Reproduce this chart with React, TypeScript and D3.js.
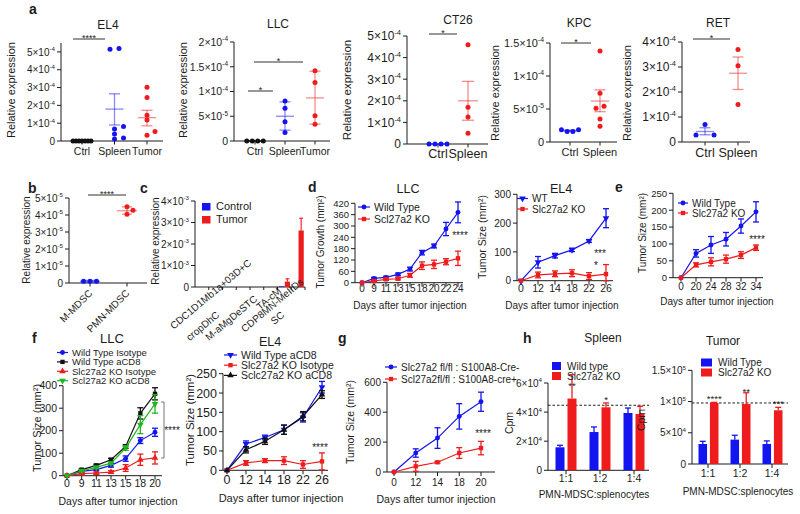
import React from "react";
import * as d3 from "d3";

const FONT = "'Liberation Sans', Arial, Helvetica, sans-serif";
const BLUE = "#1414f0";
const RED = "#ee1c1c";
const GREEN = "#22b422";
const BLACK = "#111111";
const INK = "#1c1c1c";

/* ---------------- panel a ---------------- */
const catsCST = ["Ctrl", "Spleen", "Tumor"];
const catsCS = ["Ctrl", "Spleen"];

const el4Ctrl = [0, 0, 0, 0, 0, 0, 0];
const el4Spleen = [5.15e-4, 5.19e-4, 0.82e-4, 0.67e-4, 0.39e-4, 0.11e-4, 0.17e-4];
const el4Tumor = [3.02e-4, 2.44e-4, 1.44e-4, 1.18e-4, 0.54e-4, 0.32e-4];
const el4Mean = [0, 1.79e-4, 1.31e-4];
const el4Sem = [[0, 0], [0.9e-4, 2.65e-4], [0.85e-4, 1.72e-4]];
const el4Ticks = [0, 1e-4, 2e-4, 3e-4, 4e-4, 5e-4];
const el4TickLabels = ["0", "1×10^-4", "2×10^-4", "3×10^-4", "4×10^-4", "5×10^-4"];

const llcCtrl = [0, 0, 0, 0];
const llcSpleen = [8.1e-5, 6.6e-5, 3.9e-5, 1.7e-5];
const llcTumor = [14.2e-5, 11.8e-5, 5.1e-5, 3.4e-5];
const llcMean = [0, 5.0e-5, 8.7e-5];
const llcSem = [[0, 0], [2.2e-5, 7.9e-5], [3.4e-5, 14.1e-5]];
const llcTicks = [0, 5e-5, 1e-4, 1.5e-4, 2e-4];
const llcTickLabels = ["0", "5×10^-5", "1×10^-4", "1.5×10^-4", "2×10^-4"];

const ct26Ctrl = [0, 0, 0, 0];
const ct26Spleen = [4.6e-4, 1.7e-4, 1.25e-4, 0.5e-4];
const ct26Mean = [0, 2.0e-4];
const ct26Sem = [[0, 0], [1.1e-4, 2.9e-4]];
const ct26Ticks = [0, 1e-4, 2e-4, 3e-4, 4e-4, 5e-4];
const ct26TickLabels = el4TickLabels;

const kpcCtrl = [1.6e-5, 1.85e-5, 1.6e-5, 1.85e-5];
const kpcSpleen = [13.8e-5, 7.4e-5, 5.4e-5, 5.1e-5, 3.5e-5, 2.4e-5];
const kpcMean = [1.72e-5, 6.2e-5];
const kpcSem = [[1.65e-5, 1.8e-5], [4.6e-5, 7.9e-5]];
const kpcTicks = [0, 5e-5, 1e-4, 1.5e-4];
const kpcTickLabels = ["0", "5×10^-5", "1×10^-4", "1.5×10^-4"];

const retCtrl = [0.70e-4, 0.28e-4, 0.28e-4];
const retSpleen = [3.7e-4, 3.05e-4, 1.5e-4];
const retMean = [0.42e-4, 2.75e-4];
const retSem = [[0.29e-4, 0.57e-4], [2.1e-4, 3.4e-4]];
const retTicks = [0, 1e-4, 2e-4, 3e-4, 4e-4];
const retTickLabels = ["0", "1×10^-4", "2×10^-4", "3×10^-4", "4×10^-4"];

/* ---------------- panel b ---------------- */
const bCats = ["M-MDSC", "PMN-MDSC"];
const bM = [0.1e-5, 0.1e-5, 0.1e-5];
const bPmn = [4.48e-5, 4.28e-5, 4.05e-5];
const bMean = [0.1e-5, 4.25e-5];
const bSem = [[0.05e-5, 0.15e-5], [4.05e-5, 4.48e-5]];
const bTicks = [0, 1e-5, 2e-5, 3e-5, 4e-5, 5e-5];
const bTickLabels = ["0", "1×10^-5", "2×10^-5", "3×10^-5", "4×10^-5", "5×10^-5"];

/* ---------------- panel c ---------------- */
const cCats = ["k1", "k2", "k3", "k4", "k5", "k6", "k7", "k8"];
const cSeries = ["Control", "Tumor"];
const cControl = [0, 0, 0, 0, 0, 0, 0.03e-3, 0];
const cTumor = [0, 0, 0, 0, 0, 0, 0.25e-3, 2.63e-3];
const cTumorErr = [0, 0, 0, 0, 0, 0, 0.13e-3, 0.57e-3];
const cTicks = [0, 1e-3, 2e-3, 3e-3, 4e-3];
const cTickLabels = ["0", "1×10^-3", "2×10^-3", "3×10^-3", "4×10^-3"];
const cLabels = ["CDC1D1Mb1a+03D+C", "cropDhC", "M-aMgDeSTC", "TA-cM", "CDP8MN-MeIIDs", "SC"];
const cLabelAnchors = [[252, 264], [220, 316], [258, 300], [282, 292], [304, 283], [285, 316]];

/* ---------------- panel d ---------------- */
const dLlcDays = ["0", "9", "11", "13", "15", "18", "20", "22", "24"];
const dLlcWt = [0, 23, 28, 44, 72, 159, 194, 284, 372];
const dLlcWtErr = [0, 5, 6, 7, 10, 12, 10, 35, 55];
const dLlcKo = [0, 9, 18, 21, 39, 90, 97, 111, 129];
const dLlcKoErr = [0, 3, 5, 6, 10, 20, 22, 16, 38];
const dLlcTicks = [0, 60, 120, 180, 240, 300, 360, 420];

const dEl4Days = ["0", "12", "14", "18", "22", "26"];
const dEl4Wt = [0, 64, 87, 107, 138, 217];
const dEl4WtErr = [0, 20, 8, 6, 5, 33];
const dEl4Ko = [0, 20, 24, 26, 16, 23];
const dEl4KoErr = [0, 10, 10, 12, 12, 33];
const dEl4Ticks = [0, 100, 200, 300];

/* ---------------- panel e ---------------- */
const eDays = ["0", "20", "24", "28", "32", "34"];
const eWt = [0, 72, 97, 114, 153, 195];
const eWtErr = [0, 11, 25, 20, 21, 30];
const eKo = [0, 38, 47, 55, 67, 89];
const eKoErr = [0, 6, 12, 12, 10, 8];
const eTicks = [0, 50, 100, 150, 200, 250];

/* ---------------- panel f ---------------- */
const fLlcDays = ["0", "9", "11", "13", "15", "18", "20"];
const fLlcWtIso = [0, 19, 27, 46, 76, 156, 193];
const fLlcWtIsoErr = [0, 5, 5, 8, 12, 13, 18];
const fLlcWtCd8 = [0, 27, 46, 71, 130, 277, 364];
const fLlcWtCd8Err = [0, 4, 5, 6, 8, 25, 27];
const fLlcKoIso = [0, 9, 12, 16, 34, 71, 79];
const fLlcKoIsoErr = [0, 4, 4, 6, 15, 25, 27];
const fLlcKoCd8 = [0, 22, 37, 56, 123, 227, 319];
const fLlcKoCd8Err = [0, 4, 5, 6, 10, 40, 41];
const fLlcTicks = [0, 100, 200, 300, 400];

const fEl4Days = ["0", "12", "14", "18", "22", "26"];
const fEl4WtCd8 = [0, 68, 85, 105, 137, 215];
const fEl4WtCd8Err = [0, 8, 6, 12, 12, 15];
const fEl4KoIso = [0, 19, 25, 25, 15, 23];
const fEl4KoIsoErr = [0, 6, 5, 10, 10, 22];
const fEl4KoCd8 = [0, 53, 75, 105, 140, 196];
const fEl4KoCd8Err = [0, 8, 8, 12, 12, 10];
const fEl4Ticks = [0, 50, 100, 150, 200, 250];

/* ---------------- panel g ---------------- */
const gDays = ["0", "12", "14", "18", "20"];
const gCreNeg = [0, 127, 227, 372, 470];
const gCreNegErr = [0, 28, 69, 85, 64];
const gCrePos = [0, 38, 65, 127, 160];
const gCrePosErr = [0, 33, 6, 36, 45];
const gTicks = [0, 200, 400, 600];

/* ---------------- panel h ---------------- */
const hGroups = ["1:1", "1:2", "1:4"];
const hSpleenSeries = ["Wild type", "Slc27a2 KO"];
const hSpleenWt = [1.58e4, 2.63e4, 3.94e4];
const hSpleenWtErr = [0.14e4, 0.35e4, 0.34e4];
const hSpleenKo = [4.93e4, 4.33e4, 3.87e4];
const hSpleenKoErr = [1.64e4, 0.3e4, 0.53e4];
const hSpleenRef = 4.47e4;
const hSpleenTicks = [0, 2e4, 4e4, 6e4];
const hSpleenTickLabels = ["0", "2×10^4", "4×10^4", "6×10^4"];
const hSpleenKoStars = ["**", "*", ""];

const hTumorSeries = ["Wild Type", "Slc27a2 KO"];
const hTumorWt = [3.2e4, 3.9e4, 3.2e4];
const hTumorWtErr = [0.43e4, 0.7e4, 0.5e4];
const hTumorKo = [9.77e4, 9.6e4, 8.6e4];
const hTumorKoErr = [0.1e4, 1.8e4, 0.47e4];
const hTumorRef = 9.77e4;
const hTumorTicks = [0, 5e4, 1e5, 1.5e5];
const hTumorTickLabels = ["0", "5×10^4", "1×10^5", "1.5×10^5"];
const hTumorKoStars = ["****", "**", "***"];

/* ---------------- helpers ---------------- */
function Sci({ x, y, label, size, anchor = "end" }: any) {
  const i = label.indexOf("^");
  const base = i < 0 ? label : label.slice(0, i);
  const exp = i < 0 ? null : label.slice(i + 1);
  return (
    <text x={x} y={y} fontSize={size} textAnchor={anchor}>
      {base}
      {exp !== null && (
        <tspan fontSize={size * 0.62} dy={-size * 0.42}>
          {exp}
        </tspan>
      )}
    </text>
  );
}

function VLabel({ x, y, text, size }: any) {
  return (
    <text transform={`translate(${x},${y}) rotate(-90)`} textAnchor="middle" fontSize={size}>
      {text}
    </text>
  );
}

function Stars({ x, cy, text, size = 10, anchor = "middle" }: any) {
  return (
    <text x={x} y={cy + size * 0.6} fontSize={size} textAnchor={anchor}>
      {text}
    </text>
  );
}

function YAxis({ y, x, ticks, labels, font, len = 4 }: any) {
  const [r0, r1] = y.range();
  return (
    <g>
      <line x1={x} x2={x} y1={r0} y2={r1} stroke={INK} strokeWidth={1} />
      {ticks.map((t: number, i: number) => (
        <g key={i}>
          <line x1={x - len} x2={x} y1={y(t)} y2={y(t)} stroke={INK} strokeWidth={1} />
          <Sci x={x - len - 2} y={y(t) + font * 0.36} label={labels[i]} size={font} />
        </g>
      ))}
    </g>
  );
}

function swarm(pys: number[], step: number, th = 4.6): number[] {
  const n = pys.length;
  const order = d3.range(n).sort((a, b) => pys[b] - pys[a]);
  const offs = new Array(n).fill(0);
  const done: number[] = [];
  const cand = (k: number) => (k === 0 ? 0 : (k % 2 ? 1 : -1) * Math.ceil(k / 2) * step);
  for (const i of order) {
    const near = done.filter((j) => Math.abs(pys[j] - pys[i]) < th);
    let k = 0;
    while (near.some((j) => Math.abs(offs[j] - cand(k)) < step * 0.5)) k++;
    offs[i] = cand(k);
    done.push(i);
  }
  const parent = d3.range(n);
  const find = (a: number): number => (parent[a] === a ? a : (parent[a] = find(parent[a])));
  for (let a = 0; a < n; a++)
    for (let b = a + 1; b < n; b++) if (Math.abs(pys[a] - pys[b]) < th) parent[find(a)] = find(b);
  const groups = d3.group(d3.range(n), find);
  groups.forEach((idx) => {
    const ext = d3.extent(idx, (i) => pys[i]) as [number, number];
    if (idx.length > 1 && ext[1] - ext[0] < 2) {
      const m = d3.mean(idx, (i) => offs[i]) as number;
      idx.forEach((i) => (offs[i] -= m));
    }
  });
  return offs;
}

/* ---------------- scatter (dot plot) panel ---------------- */
function ScatterPanel({ p }: any) {
  const L = p.L;
  const y = d3.scaleLinear().domain([0, p.yMax]).range([L.y0, L.yTop]);
  const x = d3.scalePoint<string>().domain(p.cats).range([L.c0, L.c1]);
  return (
    <g>
      {p.title && (
        <text x={L.titleX} y={L.titleY} fontSize={L.titleFont} textAnchor="middle">
          {p.title}
        </text>
      )}
      <YAxis y={y} x={L.ax} ticks={p.ticks} labels={p.tickLabels} font={L.tickFont} />
      <line x1={L.ax} x2={L.axEnd} y1={L.y0} y2={L.y0} stroke={INK} strokeWidth={1} />
      {p.cats.map((c: string) => (
        <g key={c}>
          <line x1={x(c)} x2={x(c)} y1={L.y0} y2={L.y0 + 3.5} stroke={INK} />
          {L.rotate ? (
            <text
              transform={`translate(${x(c)! + L.rotDx},${L.y0 + L.rotDy}) rotate(-45)`}
              fontSize={L.catFont}
              textAnchor="end"
            >
              {c}
            </text>
          ) : (
            <text x={x(c)} y={L.catY} fontSize={L.catFont} textAnchor="middle">
              {c}
            </text>
          )}
        </g>
      ))}
      <VLabel x={L.ylabelX} y={L.ylabelY} text={p.ylabel} size={L.ylabelFont} />
      {p.groups.map((vals: number[], gi: number) => {
        const cx = x(p.cats[gi])!;
        const col = p.colors[gi];
        const pys = vals.map((v) => y(v));
        const offs = swarm(pys, L.steps[gi]);
        const [lo, hi] = p.sem[gi];
        return (
          <g key={gi}>
            <g stroke={col} strokeOpacity={col === BLACK ? 1 : 0.5} strokeWidth={1.3}>
              <line x1={cx - L.meanW} x2={cx + L.meanW} y1={y(p.means[gi])} y2={y(p.means[gi])} />
              {hi > lo && (
                <>
                  <line x1={cx} x2={cx} y1={y(lo)} y2={y(hi)} />
                  <line x1={cx - L.capW} x2={cx + L.capW} y1={y(lo)} y2={y(lo)} />
                  <line x1={cx - L.capW} x2={cx + L.capW} y1={y(hi)} y2={y(hi)} />
                </>
              )}
            </g>
            {vals.map((v, i) => (
              <circle key={i} cx={cx + offs[i]} cy={pys[i]} r={2.5} fill={col} />
            ))}
          </g>
        );
      })}
      {L.sig.map((s: any, i: number) => (
        <g key={i}>
          <line x1={s.x1} x2={s.x2} y1={s.y} y2={s.y} stroke={INK} strokeWidth={0.9} />
          <Stars x={(s.x1 + s.x2) / 2} cy={s.y - 3.5} text={p.sigText[i]} size={9} />
        </g>
      ))}
    </g>
  );
}

/* ---------------- line panel ---------------- */
function Marker({ sym, rot = 0, x, y, color, size = 19 }: any) {
  return (
    <path
      transform={`translate(${x},${y}) rotate(${rot})`}
      d={d3.symbol(sym, size)() as string}
      fill={color}
    />
  );
}

function LinePanel({ p }: any) {
  const L = p.L;
  const y = d3.scaleLinear().domain([0, p.yMax]).range([L.y0, L.yTop]);
  const x = d3.scalePoint<string>().domain(p.days).range([L.x0, L.x1]);
  const line = d3
    .line<number>()
    .x((_, i) => x(p.days[i])!)
    .y((v) => y(v));
  return (
    <g>
      {p.title && (
        <text x={L.titleX} y={L.titleY} fontSize={L.titleFont} textAnchor="middle">
          {p.title}
        </text>
      )}
      <YAxis y={y} x={L.ax} ticks={p.ticks} labels={p.ticks.map(String)} font={L.tickFont} />
      <line x1={L.ax} x2={L.axEnd} y1={L.y0} y2={L.y0} stroke={INK} strokeWidth={1} />
      {p.days.map((d: string) => (
        <g key={d}>
          <line x1={x(d)} x2={x(d)} y1={L.y0} y2={L.y0 + 4} stroke={INK} />
          <text x={x(d)} y={L.xTickY} fontSize={L.xTickFont ?? L.tickFont} textAnchor="middle">
            {d}
          </text>
        </g>
      ))}
      <VLabel x={L.ylabelX} y={L.ylabelY} text={p.ylabel} size={L.ylabelFont} />
      <text x={L.xlabelX} y={L.xlabelY} fontSize={L.xlabelFont} textAnchor="middle">
        {p.xlabel}
      </text>
      {p.series.map((s: any, si: number) => (
        <g key={si}>
          <path d={line(s.values) as string} fill="none" stroke={s.color} strokeWidth={1.2} />
          {s.values.map((v: number, i: number) => {
            const e = s.errs[i];
            if (!e) return null;
            const cx = x(p.days[i])!;
            const y1 = y(Math.max(0, v - e));
            const y2 = y(v + e);
            return (
              <g key={i} stroke={s.color} strokeWidth={1.3}>
                <line x1={cx} x2={cx} y1={y1} y2={y2} />
                <line x1={cx - 3} x2={cx + 3} y1={y1} y2={y1} />
                <line x1={cx - 3} x2={cx + 3} y1={y2} y2={y2} />
              </g>
            );
          })}
          {s.values.map((v: number, i: number) => (
            <Marker key={i} sym={s.sym} rot={s.rot} x={x(p.days[i])} y={y(v)} color={s.color} />
          ))}
        </g>
      ))}
      {p.series.map((s: any, si: number) => {
        const ly = L.legY + si * L.legDy;
        return (
          <g key={"l" + si}>
            <line x1={L.legX} x2={L.legX + L.legW} y1={ly} y2={ly} stroke={s.color} strokeWidth={1.2} />
            <Marker sym={s.sym} rot={s.rot} x={L.legX + L.legW / 2} y={ly} color={s.color} />
            <text x={L.legX + L.legW + 4} y={ly + L.legFont * 0.36} fontSize={L.legFont}>
              {s.name}
            </text>
          </g>
        );
      })}
      {L.stars.map((s: any, i: number) => (
        <Stars key={i} x={s[0]} cy={s[1]} text={p.stars[i]} size={10} />
      ))}
    </g>
  );
}

/* ---------------- bar panel (h) ---------------- */
function BarPanel({ p }: any) {
  const L = p.L;
  const y = d3.scaleLinear().domain([0, p.yMax]).range([L.y0, L.yTop]);
  const x0 = d3.scaleBand<string>().domain(p.groups).range([L.b0, L.b1]);
  const x1 = d3.scaleBand<string>().domain(p.series).range([L.i0, L.i1]).paddingInner(0.25);
  const colors = [BLUE, RED];
  return (
    <g>
      <text x={L.titleX} y={L.titleY} fontSize={L.titleFont} textAnchor="middle">
        {p.title}
      </text>
      <YAxis y={y} x={L.ax} ticks={p.ticks} labels={p.tickLabels} font={L.tickFont} />
      <line x1={L.ax} x2={L.axEnd} y1={L.y0} y2={L.y0} stroke={INK} strokeWidth={1} />
      {p.groups.map((g: string) => (
        <g key={g}>
          <line
            x1={x0(g)! + x0.bandwidth() / 2}
            x2={x0(g)! + x0.bandwidth() / 2}
            y1={L.y0}
            y2={L.y0 + 4}
            stroke={INK}
          />
          <text x={x0(g)! + x0.bandwidth() / 2} y={L.xTickY} fontSize={L.xTickFont} textAnchor="middle">
            {g}
          </text>
        </g>
      ))}
      <line
        x1={L.ax}
        x2={L.axEnd}
        y1={y(p.ref)}
        y2={y(p.ref)}
        stroke={INK}
        strokeWidth={1}
        strokeDasharray="2.5,2"
      />
      {p.series.map((s: string, si: number) =>
        p.values[si].map((v: number, gi: number) => {
          const bx = x0(p.groups[gi])! + x1(s)!;
          const bw = x1.bandwidth();
          const cx = bx + bw / 2;
          const top = y(v + p.errs[si][gi]);
          const star = si === 1 ? p.koStars[gi] : "";
          return (
            <g key={s + gi}>
              <rect x={bx} y={y(v)} width={bw} height={L.y0 - y(v)} fill={colors[si]} />
              <g stroke={colors[si]} strokeWidth={1.3}>
                <line x1={cx} x2={cx} y1={y(v)} y2={top} />
                <line x1={cx - 3} x2={cx + 3} y1={top} y2={top} />
              </g>
              {star && <Stars x={cx} cy={Math.max(y(v) - 15, top - 6)} text={star} size={9.5} />}
            </g>
          );
        })
      )}
      <VLabel x={L.ylabelX} y={L.ylabelY} text="Cpm" size={L.ylabelFont} />
      <text x={L.xlabelX} y={L.xlabelY} fontSize={L.xlabelFont} textAnchor="middle">
        PMN-MDSC:splenocytes
      </text>
      {p.series.map((s: string, si: number) => (
        <g key={"lg" + s}>
          <rect x={L.legX} y={L.legY + si * L.legDy - 4} width={L.legW} height={8} fill={colors[si]} />
          <text x={L.legX + L.legW + 6} y={L.legY + si * L.legDy + 3.8} fontSize={L.legFont}>
            {s}
          </text>
        </g>
      ))}
    </g>
  );
}

/* ---------------- panel c ---------------- */
function PanelC() {
  const ax = 195;
  const y = d3.scaleLinear().domain([0, 4e-3]).range([287, 201]);
  const x0 = d3.scaleBand<string>().domain(cCats).range([195, 305]);
  const x1 = d3.scaleBand<string>().domain(cSeries).range([1.5, 12.5]).paddingInner(0.1);
  const vals = [cControl, cTumor];
  const errs = [cControl.map(() => 0), cTumorErr];
  const cols = [BLUE, RED];
  return (
    <g>
      <YAxis y={y} x={ax} ticks={cTicks} labels={cTickLabels} font={10} />
      <line x1={ax} x2={305} y1={287} y2={287} stroke={INK} />
      {cCats.map((c) => (
        <line key={c} x1={x0(c)! + x0.bandwidth()} x2={x0(c)! + x0.bandwidth()} y1={287} y2={290} stroke={INK} />
      ))}
      {cSeries.map((s, si) =>
        vals[si].map((v, gi) => {
          if (v <= 0) return null;
          const bx = x0(cCats[gi])! + x1(s)!;
          const bw = x1.bandwidth();
          const cx = bx + bw / 2;
          const top = y(v + errs[si][gi]);
          return (
            <g key={s + gi}>
              <rect x={bx} y={y(v)} width={bw} height={287 - y(v)} fill={cols[si]} />
              {errs[si][gi] > 0 && (
                <g stroke={cols[si]} strokeWidth={1.1}>
                  <line x1={cx} x2={cx} y1={y(v)} y2={top} />
                  <line x1={cx - 2} x2={cx + 2} y1={top} y2={top} />
                </g>
              )}
            </g>
          );
        })
      )}
      <VLabel x={159} y={241} text="Relative expression" size={10} />
      {cSeries.map((s, si) => (
        <g key={s}>
          <rect x={202} y={203 + si * 13} width={8.5} height={7.5} fill={cols[si]} />
          <text x={216} y={210 + si * 13} fontSize={11}>
            {s}
          </text>
        </g>
      ))}
      {cLabels.map((t, i) => (
        <text
          key={t}
          transform={`translate(${cLabelAnchors[i][0]},${cLabelAnchors[i][1]}) rotate(-40)`}
          textAnchor="end"
          fontSize={10}
        >
          {t}
        </text>
      ))}
    </g>
  );
}

/* ---------------- specs ---------------- */
const aSpecs = [
  {
    title: "EL4", cats: catsCST, groups: [el4Ctrl, el4Spleen, el4Tumor], colors: [BLACK, BLUE, RED],
    means: el4Mean, sem: el4Sem, ticks: el4Ticks, tickLabels: el4TickLabels, yMax: 5.5e-4,
    ylabel: "Relative expression", sigText: ["****"],
    L: { ax: 61, axEnd: 163, y0: 141, yTop: 43, c0: 82, c1: 147, titleX: 108, titleY: 29, titleFont: 12,
      tickFont: 10, catFont: 10.5, catY: 155, ylabelX: 15, ylabelY: 90, ylabelFont: 11,
      steps: [3, 9, 8], meanW: 9, capW: 5.5, sig: [{ x1: 73, x2: 105, y: 39 }] },
  },
  {
    title: "LLC", cats: catsCST, groups: [llcCtrl, llcSpleen, llcTumor], colors: [BLACK, BLUE, RED],
    means: llcMean, sem: llcSem, ticks: llcTicks, tickLabels: llcTickLabels, yMax: 2e-4,
    ylabel: "Relative expression", sigText: ["*", "*"],
    L: { ax: 234, axEnd: 330, y0: 141, yTop: 42, c0: 255, c1: 315, titleX: 278, titleY: 28, titleFont: 12,
      tickFont: 10.5, catFont: 10.5, catY: 155, ylabelX: 187, ylabelY: 90, ylabelFont: 11,
      steps: [5.5, 6, 6], meanW: 9, capW: 5.5, sig: [{ x1: 248, x2: 273, y: 91 }, { x1: 254, x2: 303, y: 62 }] },
  },
  {
    title: "CT26", cats: catsCS, groups: [ct26Ctrl, ct26Spleen], colors: [BLUE, RED],
    means: ct26Mean, sem: ct26Sem, ticks: ct26Ticks, tickLabels: ct26TickLabels, yMax: 5e-4,
    ylabel: "Relative expression", sigText: ["*"],
    L: { ax: 407, axEnd: 488, y0: 144, yTop: 36, c0: 438, c1: 468, titleX: 458, titleY: 24, titleFont: 12,
      tickFont: 12, catFont: 12.5, catY: 158, ylabelX: 351, ylabelY: 90, ylabelFont: 11.5,
      steps: [6, 6], meanW: 10, capW: 6, sig: [{ x1: 429, x2: 457, y: 34 }] },
  },
  {
    title: "KPC", cats: catsCS, groups: [kpcCtrl, kpcSpleen], colors: [BLUE, RED],
    means: kpcMean, sem: kpcSem, ticks: kpcTicks, tickLabels: kpcTickLabels, yMax: 1.5e-4,
    ylabel: "Relative expression", sigText: ["*"],
    L: { ax: 550, axEnd: 617, y0: 142, yTop: 43, c0: 570, c1: 600, titleX: 579, titleY: 27, titleFont: 12,
      tickFont: 11, catFont: 11, catY: 156, ylabelX: 499, ylabelY: 93, ylabelFont: 11,
      steps: [5.7, 8], meanW: 9, capW: 5.5, sig: [{ x1: 561, x2: 591, y: 43 }] },
  },
  {
    title: "RET", cats: catsCS, groups: [retCtrl, retSpleen], colors: [BLUE, RED],
    means: retMean, sem: retSem, ticks: retTicks, tickLabels: retTickLabels, yMax: 4e-4,
    ylabel: "Relative expression", sigText: ["*"],
    L: { ax: 682, axEnd: 750, y0: 142, yTop: 42, c0: 705, c1: 738, titleX: 718, titleY: 27, titleFont: 12,
      tickFont: 12, catFont: 12.5, catY: 157, ylabelX: 631, ylabelY: 93, ylabelFont: 11,
      steps: [18, 8], meanW: 9, capW: 5.5, sig: [{ x1: 693, x2: 730, y: 39 }] },
  },
];

const bSpec = {
  cats: bCats, groups: [bM, bPmn], colors: [BLUE, RED], means: bMean, sem: bSem,
  ticks: bTicks, tickLabels: bTickLabels, yMax: 5e-5, ylabel: "Relative expression", sigText: ["****"],
  L: { ax: 69, axEnd: 147, y0: 283, yTop: 198, c0: 90, c1: 127, tickFont: 10, catFont: 10,
    rotate: true, rotDx: 3, rotDy: 11, ylabelX: 30, ylabelY: 240, ylabelFont: 10,
    steps: [6.5, 6], meanW: 10, capW: 5, sig: [{ x1: 88, x2: 126, y: 195 }] },
};

const dLlcSpec = {
  title: "LLC", days: dLlcDays, yMax: 420, ticks: dLlcTicks, ylabel: "Tumor Growth (mm²)",
  xlabel: "Days after tumor injection", stars: ["****"],
  series: [
    { name: "Wild Type", color: BLUE, sym: d3.symbolCircle, values: dLlcWt, errs: dLlcWtErr },
    { name: "Scl27a2 KO", color: RED, sym: d3.symbolSquare, values: dLlcKo, errs: dLlcKoErr },
  ],
  L: { ax: 355, axEnd: 463, y0: 282.7, yTop: 203.3, x0: 362, x1: 458, titleX: 408, titleY: 193, titleFont: 12.5,
    tickFont: 9.5, xTickFont: 10, xTickY: 292, ylabelX: 324, ylabelY: 242, ylabelFont: 10,
    xlabelX: 410, xlabelY: 309, xlabelFont: 10, legX: 358, legY: 207, legDy: 12, legW: 12, legFont: 10.5,
    stars: [[460, 233]] },
};

const dEl4Spec = {
  title: "EL4", days: dEl4Days, yMax: 300, ticks: dEl4Ticks, ylabel: "Tumor Size (mm²)",
  xlabel: "Days after tumor injection", stars: ["***", "*"],
  series: [
    { name: "WT", color: BLUE, sym: d3.symbolTriangle, rot: 180, values: dEl4Wt, errs: dEl4WtErr },
    { name: "Slc27a2 KO", color: RED, sym: d3.symbolSquare, values: dEl4Ko, errs: dEl4KoErr },
  ],
  L: { ax: 517, axEnd: 613, y0: 280.7, yTop: 194.3, x0: 521, x1: 606, titleX: 561, titleY: 193, titleFont: 12.5,
    tickFont: 10, xTickFont: 10.5, xTickY: 292, ylabelX: 486, ylabelY: 237, ylabelFont: 10.5,
    xlabelX: 562, xlabelY: 309, xlabelFont: 10, legX: 517, legY: 198.5, legDy: 10.5, legW: 11, legFont: 10,
    stars: [[600, 251], [596, 263]] },
};

const eSpec = {
  days: eDays, yMax: 250, ticks: eTicks, ylabel: "Tumor Size (mm²)",
  xlabel: "Days after tumor injection", stars: ["****"],
  series: [
    { name: "Wild Type", color: BLUE, sym: d3.symbolCircle, values: eWt, errs: eWtErr },
    { name: "Slc27a2 KO", color: RED, sym: d3.symbolSquare, values: eKo, errs: eKoErr },
  ],
  L: { ax: 673, axEnd: 763, y0: 277.7, yTop: 193.3, x0: 681, x1: 756,
    tickFont: 9.5, xTickFont: 10, xTickY: 290, ylabelX: 646, ylabelY: 233, ylabelFont: 10,
    xlabelX: 717, xlabelY: 305, xlabelFont: 10, legX: 678, legY: 203, legDy: 10, legW: 10, legFont: 10,
    stars: [[757, 237]] },
};

const fLlcSpec = {
  title: "LLC", days: fLlcDays, yMax: 400, ticks: fLlcTicks, ylabel: "Tumor Size (mm²)",
  xlabel: "Days after tumor injection", stars: ["****"],
  series: [
    { name: "Wild Type Isotype", color: BLUE, sym: d3.symbolCircle, values: fLlcWtIso, errs: fLlcWtIsoErr },
    { name: "Wild Type aCD8", color: BLACK, sym: d3.symbolSquare, values: fLlcWtCd8, errs: fLlcWtCd8Err },
    { name: "Slc27a2 KO Isotype", color: RED, sym: d3.symbolTriangle, values: fLlcKoIso, errs: fLlcKoIsoErr },
    { name: "Scl27a2 KO aCD8", color: GREEN, sym: d3.symbolTriangle, rot: 180, values: fLlcKoCd8, errs: fLlcKoCd8Err },
  ],
  L: { ax: 63, axEnd: 162, y0: 475.7, yTop: 385.7, x0: 67, x1: 155, titleX: 112, titleY: 343, titleFont: 13,
    tickFont: 10.5, xTickFont: 10.5, xTickY: 487, ylabelX: 41, ylabelY: 428, ylabelFont: 11,
    xlabelX: 118, xlabelY: 505, xlabelFont: 10.5, legX: 57, legY: 352.5, legDy: 9.4, legW: 11, legFont: 9.5,
    stars: [[172, 428]] },
};

const fEl4Spec = {
  title: "EL4", days: fEl4Days, yMax: 250, ticks: fEl4Ticks, ylabel: "Tumor Size (mm²)",
  xlabel: "Days after tumor injection", stars: ["****"],
  series: [
    { name: "Wild Type aCD8", color: BLUE, sym: d3.symbolTriangle, rot: 180, values: fEl4WtCd8, errs: fEl4WtCd8Err },
    { name: "Slc27a2 KO  Isotype", color: RED, sym: d3.symbolSquare, values: fEl4KoIso, errs: fEl4KoIsoErr },
    { name: "Sclc27a2 KO aCD8", color: BLACK, sym: d3.symbolTriangle, values: fEl4KoCd8, errs: fEl4KoCd8Err },
  ],
  L: { ax: 223, axEnd: 328, y0: 470.3, yTop: 373.7, x0: 227, x1: 322, titleX: 270, titleY: 346, titleFont: 12.5,
    tickFont: 12.5, xTickFont: 12.5, xTickY: 484, ylabelX: 194, ylabelY: 420, ylabelFont: 11.5,
    xlabelX: 281, xlabelY: 502, xlabelFont: 11, legX: 224, legY: 355, legDy: 10.2, legW: 13, legFont: 10.5,
    stars: [[320, 445]] },
};

const gSpec = {
  days: gDays, yMax: 600, ticks: gTicks, ylabel: "Tumor Size (mm²)",
  xlabel: "Days after tumor injection", stars: ["****"],
  series: [
    { name: "Slc27a2 fl/fl : S100A8-Cre-", color: BLUE, sym: d3.symbolCircle, values: gCreNeg, errs: gCreNegErr },
    { name: "Scl27a2fl/fl : S100A8-cre+", color: RED, sym: d3.symbolSquare, values: gCrePos, errs: gCrePosErr },
  ],
  L: { ax: 387, axEnd: 495, y0: 472, yTop: 382.3, x0: 394, x1: 481,
    tickFont: 10, xTickFont: 10, xTickY: 486, ylabelX: 354, ylabelY: 422, ylabelFont: 10.5,
    xlabelX: 436, xlabelY: 503, xlabelFont: 10.5, legX: 385, legY: 367, legDy: 12, legW: 12, legFont: 10,
    stars: [[483, 431]] },
};

const hSpleenSpec = {
  title: "Spleen", groups: hGroups, series: hSpleenSeries, values: [hSpleenWt, hSpleenKo],
  errs: [hSpleenWtErr, hSpleenKoErr], ref: hSpleenRef, yMax: 6e4, ticks: hSpleenTicks,
  tickLabels: hSpleenTickLabels, koStars: hSpleenKoStars,
  L: { ax: 548, axEnd: 649, y0: 470.3, yTop: 383, b0: 549, b1: 651, i0: 6.5, i1: 27.5,
    titleX: 603, titleY: 342, titleFont: 12, tickFont: 10, xTickFont: 10.5, xTickY: 482,
    ylabelX: 513, ylabelY: 423, ylabelFont: 10.5, xlabelX: 594, xlabelY: 498, xlabelFont: 10,
    legX: 552, legY: 366, legDy: 10, legW: 9, legFont: 10 },
};

const hTumorSpec = {
  title: "Tumor", groups: hGroups, series: hTumorSeries, values: [hTumorWt, hTumorKo],
  errs: [hTumorWtErr, hTumorKoErr], ref: hTumorRef, yMax: 1.5e5, ticks: hTumorTicks,
  tickLabels: hTumorTickLabels, koStars: hTumorKoStars,
  L: { ax: 692, axEnd: 788, y0: 464, yTop: 370.3, b0: 692, b1: 788, i0: 6.5, i1: 26.5,
    titleX: 723, titleY: 345, titleFont: 12, tickFont: 10, xTickFont: 10.5, xTickY: 477,
    ylabelX: 645, ylabelY: 420, ylabelFont: 10.5, xlabelX: 738, xlabelY: 495, xlabelFont: 10,
    legX: 701, legY: 362.5, legDy: 10, legW: 11, legFont: 10 },
};

const panelLetters: [string, number, number][] = [
  ["a", 29, 14], ["b", 28, 193], ["c", 140, 193], ["d", 308, 192], ["e", 615, 192],
  ["f", 32, 343], ["g", 338, 343], ["h", 523, 343],
];

export default function App() {
  return (
    <svg
      width={800}
      height={514}
      viewBox="0 0 800 514"
      style={{ position: "absolute", left: 0, top: 0, background: "#fff" }}
      fontFamily={FONT}
      fill={INK}
    >
      <rect width={800} height={514} fill="#fff" />
      {aSpecs.map((s, i) => (
        <ScatterPanel key={i} p={s} />
      ))}
      <ScatterPanel p={bSpec} />
      <PanelC />
      <LinePanel p={dLlcSpec} />
      <LinePanel p={dEl4Spec} />
      <LinePanel p={eSpec} />
      <LinePanel p={fLlcSpec} />
      <path d="M161,402 H164 V458 H161" fill="none" stroke="#777" strokeWidth={1} />
      <LinePanel p={fEl4Spec} />
      <LinePanel p={gSpec} />
      <BarPanel p={hSpleenSpec} />
      <BarPanel p={hTumorSpec} />
      {panelLetters.map(([t, x, y]) => (
        <text key={t} x={x} y={y} fontSize={14} fontWeight="bold">
          {t}
        </text>
      ))}
    </svg>
  );
}
